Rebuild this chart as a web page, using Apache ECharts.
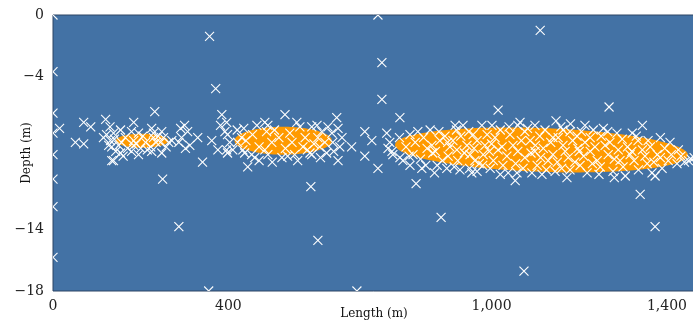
<!DOCTYPE html>
<html>
<head>
<meta charset="utf-8">
<script src="https://cdn.jsdelivr.net/npm/echarts@6/dist/echarts.min.js"></script>
<style>
  html, body { margin: 0; padding: 0; background: #ffffff; }
  #chart { width: 693px; height: 324px; }
</style>
</head>
<body>
<div id="chart"></div>
<script>
// Axis tick labels
const lengthTicks = [0, 400, 1000, 1400];
const depthTicks = [0, -4, -14, -18];

// Cluster envelopes: centre, half extents and along-length slope of depth
const envelopeCentreLength = [203, 525, 1114];
const envelopeCentreDepth = [-8.2, -8.2, -8.8];
const envelopeHalfLength = [60, 111, 334];
const envelopeHalfDepth = [0.46, 0.91, 1.43];
const envelopeSlope = [0, 0, -0.0010];

// Survey points [length (m), depth (m)]
const isolatedPoints = [
  [0, 0], [741, 0], [357, -1.4], [1111, -1.0], [371, -4.8], [750, -3.1],
  [0, -3.7], [750, -5.5], [1015, -6.2], [1268, -6.0], [1147, -6.9], [791, -6.7],
  [232, -6.3], [0, -6.4], [0, -7.7], [0, -9.1], [0, -10.7], [0, -12.5], [0, -15.8],
  [250, -10.7], [287, -13.8], [885, -13.2], [604, -14.7], [588, -11.2], [741, -10.0],
  [828, -11.0], [1074, -16.7], [1339, -11.7], [1373, -13.8], [693, -18], [355, -18],
  [120, -6.8], [134, -9.5]
];

const westPoints = [
  [15, -7.4], [70, -7.0], [86, -7.3], [51, -8.3], [70, -8.4], [115, -8.0],
  [122, -7.8], [131, -8.2], [127, -8.5], [138, -7.7], [154, -7.5], [143, -8.9],
  [138, -9.5], [154, -9.0], [156, -8.3], [134, -8.6], [184, -7.0], [179, -7.6],
  [184, -8.2], [184, -8.5], [179, -8.9], [195, -7.7], [200, -8.7], [211, -8.3],
  [225, -7.4], [229, -7.7], [225, -8.9], [229, -8.0], [223, -8.6], [248, -7.6],
  [245, -8.3], [248, -9.0], [252, -8.0], [264, -8.3], [271, -8.2], [291, -7.4],
  [293, -8.0], [287, -8.3], [302, -8.7],
  [140, -8.1], [150, -8.5], [165, -8.0], [170, -8.7], [190, -8.4], [205, -7.9],
  [215, -8.8], [235, -8.3], [240, -7.9], [258, -8.6], [160, -9.2], [195, -9.1],
  [130, -7.3]
];

const centralPoints = [
  [385, -6.5], [396, -7.0], [382, -7.2], [392, -7.6], [398, -7.8], [403, -8.3],
  [376, -8.8], [396, -8.8], [398, -9.0], [341, -9.6], [362, -8.2], [330, -8.0],
  [307, -7.6], [312, -8.5], [300, -7.2], [435, -7.4], [430, -8.0], [421, -8.3],
  [433, -8.8], [437, -9.0], [453, -9.1], [444, -9.9], [460, -9.3], [465, -7.2],
  [483, -7.0], [490, -7.2], [487, -7.6], [483, -8.8], [490, -9.1], [499, -8.3],
  [522, -9.3], [529, -6.5], [556, -7.0], [563, -7.3], [570, -8.6], [551, -9.1],
  [558, -9.5], [586, -9.0], [590, -7.3], [602, -7.2], [604, -8.0], [613, -7.6],
  [608, -8.6], [620, -8.3], [627, -7.3], [636, -7.7], [638, -8.3], [647, -6.7],
  [650, -7.4], [659, -8.0], [654, -8.6], [681, -8.6], [650, -9.5], [624, -9.0],
  [590, -9.1],
  [440, -8.2], [455, -7.8], [470, -8.6], [505, -7.5], [515, -8.0], [530, -8.7],
  [540, -7.7], [545, -8.3], [575, -8.0], [580, -8.8], [595, -8.4], [610, -9.3],
  [470, -9.5], [500, -9.6], [535, -9.2], [420, -7.5], [410, -8.8], [640, -8.9]
];

const eastPoints = [
  [711, -7.6], [727, -8.2], [761, -7.7], [711, -9.2], [768, -8.3], [764, -8.7],
  [773, -8.9], [775, -9.1], [791, -9.3], [798, -9.5], [814, -9.8], [821, -9.1],
  [841, -10.0], [853, -8.7], [864, -8.5], [866, -9.0], [876, -9.8], [882, -8.2],
  [894, -7.9], [901, -9.2], [898, -10.0], [912, -8.2], [921, -8.8], [923, -9.5],
  [928, -10.1], [917, -7.2], [935, -7.2], [944, -8.5], [951, -9.1], [955, -10.3],
  [814, -7.8], [832, -7.6], [860, -7.5],
  [978, -7.2], [1001, -7.2], [1065, -7.0], [1099, -7.2], [1163, -7.5], [1179, -7.6],
  [1122, -7.5], [1076, -7.6], [958, -7.8], [967, -8.2], [985, -8.5], [1008, -8.0],
  [1015, -8.8], [981, -9.1], [962, -9.5], [967, -10.2], [1026, -9.8], [1038, -10.3],
  [1058, -10.3], [1054, -10.8], [1049, -8.5], [1060, -8.9], [1076, -9.3], [1088, -8.2],
  [1099, -8.9], [1104, -9.8], [1092, -10.3], [1118, -8.7], [1129, -9.5], [1140, -9.1],
  [1145, -10.2], [1152, -8.0], [1163, -8.5], [1175, -9.3], [1179, -10.1], [1195, -7.9],
  [1197, -8.7], [1202, -9.8], [1172, -10.6], [997, -10.0],
  [1344, -7.2], [1213, -7.2], [1232, -7.5], [1255, -7.4], [1286, -7.7], [1321, -7.7],
  [1385, -8.0], [1407, -8.3], [1426, -8.8], [1449, -9.5], [1213, -8.3], [1225, -8.9],
  [1241, -9.5], [1218, -10.3], [1259, -8.5], [1266, -9.1], [1277, -10.2], [1289, -8.8],
  [1293, -9.5], [1305, -10.5], [1316, -9.1], [1334, -8.2], [1344, -8.8], [1355, -9.7],
  [1366, -10.3], [1378, -9.1], [1389, -10.0], [1403, -9.5], [1423, -9.7], [1357, -8.2],
  [1373, -10.5], [1455, -9.4], [1462, -9.3],
  [790, -8.0], [805, -8.6], [812, -9.2], [826, -8.3], [838, -9.4], [845, -8.0],
  [850, -9.8], [872, -8.9], [880, -7.6], [888, -9.5], [905, -8.6], [915, -9.9],
  [930, -7.9], [938, -9.0], [948, -7.6], [960, -8.7], [972, -9.7], [990, -7.8],
  [995, -8.9], [1004, -9.5], [1020, -7.5], [1024, -8.6], [1035, -9.2], [1042, -7.8],
  [1055, -9.7], [1068, -8.2], [1072, -10.0], [1082, -7.4], [1090, -9.0], [1110, -7.9],
  [1112, -9.3], [1125, -10.1], [1135, -8.3], [1150, -9.6], [1158, -7.3], [1168, -8.9],
  [1185, -8.2], [1190, -9.6], [1205, -7.6], [1210, -9.2], [1225, -8.0], [1236, -8.6],
  [1248, -9.9], [1250, -7.9], [1270, -8.3], [1280, -9.4], [1298, -8.1], [1300, -9.9],
  [1310, -8.6], [1325, -9.5], [1330, -7.9], [1350, -9.2], [1362, -8.6], [1370, -9.6],
  [1395, -8.7], [1410, -9.1], [1432, -9.2], [1440, -9.6], [1265, -7.6], [1180, -7.1],
  [1040, -7.3], [950, -10.0], [1020, -10.4], [1115, -10.4], [1245, -10.4], [1335, -10.1],
  [1100, -8.5], [1000, -8.4], [900, -8.3], [1140, -8.0], [1230, -9.7], [1320, -8.9],
  [1385, -9.3], [870, -10.3], [1160, -10.0], [1280, -10.6], [1060, -7.2], [980, -9.8],
  [920, -7.5], [1200, -8.9]
];

const allPoints = isolatedPoints.concat(westPoints, centralPoints, eastPoints);

const envelopes = envelopeCentreLength.map((c, i) => [
  c, envelopeCentreDepth[i], envelopeHalfLength[i], envelopeHalfDepth[i], envelopeSlope[i]
]);

const serif = '"DejaVu Serif", "Liberation Serif", serif';

function renderEnvelope(params, api) {
  const cx = api.value(0), cy = api.value(1);
  const hx = api.value(2), hy = api.value(3), k = api.value(4);
  const pts = [];
  for (let i = 0; i < 120; i++) {
    const t = (i / 120) * Math.PI * 2;
    const dx = hx * Math.cos(t);
    pts.push(api.coord([cx + dx, cy + hy * Math.sin(t) + k * dx]));
  }
  return {
    type: 'polygon',
    shape: { points: pts },
    style: { fill: '#ff9a00' }
  };
}

function renderCross(params, api) {
  const p = api.coord([api.value(0), api.value(1)]);
  const r = 4.5;
  return {
    type: 'group',
    children: [
      { type: 'line', shape: { x1: p[0] - r, y1: p[1] - r, x2: p[0] + r, y2: p[1] + r },
        style: { stroke: '#ffffff', lineWidth: 1.1 } },
      { type: 'line', shape: { x1: p[0] - r, y1: p[1] + r, x2: p[0] + r, y2: p[1] - r },
        style: { stroke: '#ffffff', lineWidth: 1.1 } }
    ]
  };
}

const chart = echarts.init(document.getElementById('chart'), null, { renderer: 'canvas' });
chart.setOption({
  animation: false,
  grid: {
    left: 53, right: -2, top: 15, bottom: 33,
    outerBoundsMode: 'none',
    containLabel: false,
    show: true,
    backgroundColor: '#4372a5',
    borderColor: '#2c4565',
    borderWidth: 1
  },
  xAxis: {
    type: 'value',
    min: 0,
    max: 1464,
    name: 'Length (m)',
    nameLocation: 'middle',
    nameGap: 17,
    nameMoveOverlap: false,
    nameTextStyle: { fontFamily: serif, fontSize: 12, color: '#111' },
    splitLine: { show: false },
    axisTick: { show: false },
    axisLine: { show: false },
    axisLabel: {
      customValues: lengthTicks,
      fontFamily: serif, fontSize: 14, color: '#222', margin: 8,
      formatter: v => v.toLocaleString('en-US')
    }
  },
  yAxis: {
    type: 'value',
    min: -18,
    max: 0,
    name: 'Depth (m)',
    nameLocation: 'middle',
    nameGap: 20,
    nameMoveOverlap: false,
    nameRotate: 90,
    nameTextStyle: { fontFamily: serif, fontSize: 12, color: '#111' },
    splitLine: { show: false },
    axisTick: { show: false },
    axisLine: { show: false },
    axisLabel: {
      customValues: depthTicks,
      fontFamily: serif, fontSize: 14, color: '#222', margin: 9,
      formatter: v => (v < 0 ? '\u2212' + (-v) : String(v))
    }
  },
  series: [
    {
      type: 'custom',
      renderItem: renderEnvelope,
      data: envelopes,
      clip: true,
      silent: true
    },
    {
      type: 'custom',
      renderItem: renderCross,
      data: allPoints,
      clip: true,
      silent: true
    }
  ]
});
</script>
</body>
</html>
